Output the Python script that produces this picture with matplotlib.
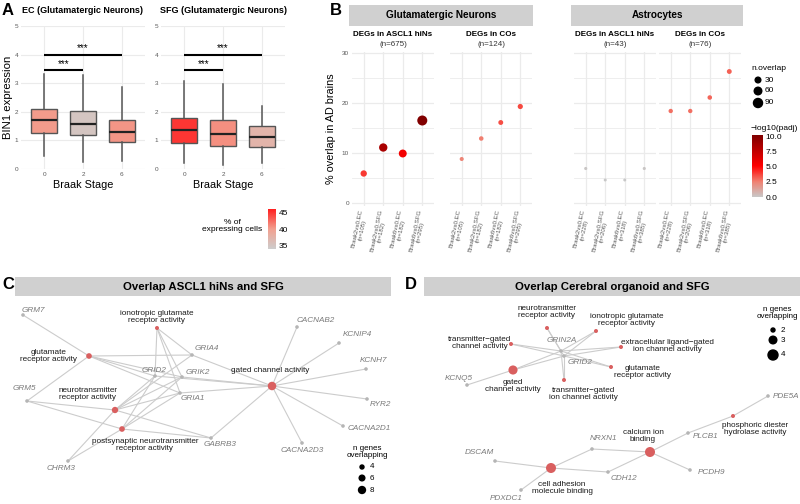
import numpy as np
import matplotlib
matplotlib.use("Agg")
import matplotlib.pyplot as plt
from matplotlib.colors import LinearSegmentedColormap, Normalize
from matplotlib.cm import ScalarMappable

plt.rcParams['font.family'] = ['Liberation Sans', 'DejaVu Sans']

# ---------------- data: panel A (BIN1 boxplots) ----------------
braak_stages = ['0', '2', '6']
ec_q1 = [1.27, 1.18, 0.95]
ec_med = [1.70, 1.57, 1.28]
ec_q3 = [2.10, 2.02, 1.73]
ec_lo = [0.45, 0.25, 0.28]
ec_hi = [3.33, 3.30, 2.87]
ec_pct = [40.2, 35.0, 40.5]
sfg_q1 = [0.92, 0.82, 0.78]
sfg_med = [1.35, 1.22, 1.13]
sfg_q3 = [1.80, 1.70, 1.52]
sfg_lo = [0.22, 0.15, 0.20]
sfg_hi = [3.07, 2.97, 2.20]
sfg_pct = [45.0, 40.8, 37.3]
sig_pairs = [(0, 2), (0, 1)]
sig_heights = [4.0, 3.45]

# ---------------- data: panel B (overlap dots) ----------------
comparisons = ['Braak2vs0.EC', 'Braak2vs0.SFG', 'Braak6vs0.EC', 'Braak6vs0.SFG']
glut_brain_n = [105, 182, 182, 295]
astro_brain_n = [228, 206, 318, 385]
glut_hin_pct = [5.9, 11.1, 9.9, 16.5]
glut_hin_padj = [4.0, 8.6, 5.6, 10.2]
glut_hin_overlap = [40, 75, 67, 112]
glut_co_pct = [8.8, 12.9, 16.1, 19.3]
glut_co_padj = [2.4, 2.6, 3.6, 3.7]
glut_co_overlap = [11, 16, 20, 24]
astro_hin_pct = [6.9, 4.6, 4.6, 6.9]
astro_hin_padj = [0.1, 0.0, 0.0, 0.1]
astro_hin_overlap = [3, 2, 2, 3]
astro_co_pct = [18.4, 18.4, 21.1, 26.3]
astro_co_padj = [2.9, 2.9, 3.1, 3.2]
astro_co_overlap = [14, 14, 16, 20]
facet_titles = ['DEGs in ASCL1 hiNs', 'DEGs in COs', 'DEGs in ASCL1 hiNs', 'DEGs in COs']
facet_n = [675, 124, 43, 76]

# ---------------- data: panel C network ----------------
c_terms = ['glutamate\nreceptor activity', 'ionotropic glutamate\nreceptor activity',
           'neurotransmitter\nreceptor activity',
           'postsynaptic neurotransmitter\nreceptor activity', 'gated channel activity']
c_term_x = [89, 157, 115, 122, 272]
c_term_y = [356, 328, 410, 429, 386]
c_term_ngenes = [6, 4, 7, 6, 11]
c_genes = ['GRM7', 'CACNAB2', 'KCNIP4', 'GRIA4', 'KCNH7', 'GRID2', 'GRIK2', 'GRM5',
           'GRIA1', 'RYR2', 'CACNA2D1', 'GABRB3', 'CACNA2D3', 'CHRM3']
c_gene_x = [23, 297, 339, 192, 366, 155, 182, 27, 180, 367, 343, 211, 302, 68]
c_gene_y = [315, 327, 343, 355, 369, 376, 377, 401, 393, 399, 426, 438, 443, 461]
c_edges = {
    0: ['GRM7', 'GRM5', 'GRIA4', 'GRID2', 'GRIK2', 'GRIA1'],
    1: ['GRIA4', 'GRID2', 'GRIK2', 'GRIA1'],
    2: ['GRM5', 'GRIA4', 'GRID2', 'GRIK2', 'GRIA1', 'GABRB3', 'CHRM3'],
    3: ['GRM5', 'GRID2', 'GRIK2', 'GRIA1', 'GABRB3', 'CHRM3'],
    4: ['CACNAB2', 'KCNIP4', 'KCNH7', 'RYR2', 'CACNA2D1', 'CACNA2D3', 'GABRB3',
        'GRIA4', 'GRID2', 'GRIK2', 'GRIA1'],
}
c_term_lab = [(-40, 0), (0, -11), (-27, -16), (23, 16), (-2, -15)]
c_gene_lab = [(10, -5), (19, -6), (18, -8), (15, -6), (8, -8), (-1, -6), (16, -4),
              (-3, -12), (13, 5), (13, 5), (26, 3), (9, 7), (0, 8), (-7, 7)]

# ---------------- data: panel D network ----------------
d_terms = ['neurotransmitter\nreceptor activity', 'ionotropic glutamate\nreceptor activity',
           'transmitter\u2212gated\nchannel activity',
           'extracellular ligand\u2212gated\nion channel activity',
           'glutamate\nreceptor activity', 'gated\nchannel activity',
           'transmitter\u2212gated\nion channel activity',
           'phosphoric diester\nhydrolase activity', 'calcium ion\nbinding',
           'cell adhesion\nmolecule binding']
d_term_x = [547, 596, 511, 621, 611, 513, 564, 733, 650, 551]
d_term_y = [328, 331, 344, 347, 367, 370, 380, 416, 452, 468]
d_term_ngenes = [2, 2, 2, 2, 2, 3.6, 2, 2, 4, 4]
d_genes = ['GRIN2A', 'GRID2', 'KCNQ5', 'PDE5A', 'PLCB1', 'NRXN1', 'DSCAM', 'CDH12',
           'PCDH9', 'PDXDC1']
d_gene_x = [561, 564, 467, 768, 688, 592, 495, 608, 690, 521]
d_gene_y = [351, 356, 385, 396, 433, 449, 461, 472, 470, 490]
d_edges = {
    0: ['GRIN2A', 'GRID2'], 1: ['GRIN2A', 'GRID2'], 2: ['GRIN2A', 'GRID2'],
    3: ['GRIN2A', 'GRID2'], 4: ['GRIN2A', 'GRID2'], 5: ['GRIN2A', 'GRID2', 'KCNQ5'],
    6: ['GRIN2A', 'GRID2'], 7: ['PDE5A', 'PLCB1'],
    8: ['NRXN1', 'CDH12', 'PCDH9', 'PLCB1'], 9: ['DSCAM', 'NRXN1', 'CDH12', 'PDXDC1'],
}
d_term_lab = [(0, -16), (31, -11), (-31, -1), (46, -1), (32, 5), (0, 16), (19, 14),
              (22, 13), (-7, -16), (11, 20)]
d_gene_lab = [(1, -11), (16, 7), (-8, -7), (18, 0), (18, 3), (12, -10), (-16, -8),
              (16, 7), (21, 2), (-15, 8)]

W, H = 800, 504
fig = plt.figure(figsize=(8, 5.04), dpi=100)


def rect(l, t, w, h):
    return [l / W, 1 - (t + h) / H, w / W, h / H]


GRID = '#ebebeb'
TICK = '#5a5a5a'


def minimal(ax):
    for s in ax.spines.values():
        s.set_visible(False)
    ax.tick_params(length=0, labelsize=4.6, labelcolor=TICK, pad=2)
    ax.set_axisbelow(True)


def strip(l, t, w, h, text, size):
    sax = fig.add_axes(rect(l, t, w, h))
    sax.set_facecolor('#d0d0d0')
    sax.set_xticks([])
    sax.set_yticks([])
    for s in sax.spines.values():
        s.set_visible(False)
    sax.text(0.5, 0.5, text, ha='center', va='center', fontsize=size,
             fontweight='bold', transform=sax.transAxes)


# ---------------- panel A ----------------
pct_cmap = LinearSegmentedColormap.from_list('pct', ['#cdcdcd', '#f2a08f', '#ff1e1e'])
pct_norm = Normalize(33.8, 46.2)

a_sets = [('EC (Glutamatergic Neurons)', ec_q1, ec_med, ec_q3, ec_lo, ec_hi, ec_pct, 21),
          ('SFG (Glutamatergic Neurons)', sfg_q1, sfg_med, sfg_q3, sfg_lo, sfg_hi, sfg_pct, 161)]
for title, q1, med, q3, lo, hi, pct, left in a_sets:
    ax = fig.add_axes(rect(left, 26, 124, 143))
    minimal(ax)
    stats = [dict(q1=q1[i], med=med[i], q3=q3[i], whislo=lo[i], whishi=hi[i], fliers=[])
             for i in range(3)]
    bp = ax.bxp(stats, positions=range(3), widths=0.66, patch_artist=True, showcaps=False,
                boxprops=dict(edgecolor='#555555', linewidth=1.0),
                medianprops=dict(color='#222222', linewidth=1.6),
                whiskerprops=dict(color='#555555', linewidth=1.1))
    for patch, p in zip(bp['boxes'], pct):
        patch.set_facecolor(pct_cmap(pct_norm(p)))
    for (a, b), yv in zip(sig_pairs, sig_heights):
        ax.plot([a, b], [yv, yv], color='black', lw=1.5, solid_capstyle='butt')
        ax.text((a + b) / 2, yv + 0.04, '***', ha='center', va='bottom', fontsize=7)
    ax.set_xlim(-0.6, 2.6)
    ax.set_ylim(0, 5)
    ax.set_xticks(range(3))
    ax.set_xticklabels(braak_stages)
    ax.set_yticks(range(6))
    ax.grid(color=GRID, lw=0.8)
    ax.set_xlabel('Braak Stage', fontsize=7.8, labelpad=2)
    ax.set_title(title, fontsize=6.5, fontweight='bold', pad=9)
    if left < 100:
        ax.set_ylabel('BIN1 expression', fontsize=8.2, labelpad=1)

cax = fig.add_axes(rect(268, 209, 8, 40))
cb = fig.colorbar(ScalarMappable(norm=pct_norm, cmap=pct_cmap), cax=cax)
cb.outline.set_visible(False)
cb.set_ticks([35, 40, 45])
cax.tick_params(length=0, labelsize=6, pad=2)
fig.text(232 / W, 1 - 226 / H, '% of\nexpressing cells', ha='center', va='center',
         fontsize=6, linespacing=1.0)

# ---------------- panel B ----------------
padj_cmap = LinearSegmentedColormap.from_list(
    'padj', [(0, '#c8c8c8'), (0.25, '#f08070'), (0.5, '#ff0000'), (1, '#7f0000')])
padj_norm = Normalize(0, 10.3)


def dot_size(n):
    d = np.sqrt(7.3 + 0.83 * np.asarray(n, dtype=float))
    return (0.72 * d) ** 2


b_panels = [(352, glut_hin_pct, glut_hin_padj, glut_hin_overlap, glut_brain_n),
            (450, glut_co_pct, glut_co_padj, glut_co_overlap, glut_brain_n),
            (574, astro_hin_pct, astro_hin_padj, astro_hin_overlap, astro_brain_n),
            (659, astro_co_pct, astro_co_padj, astro_co_overlap, astro_brain_n)]
for k, (left, pct, padj, ov, bn) in enumerate(b_panels):
    ax = fig.add_axes(rect(left, 51.5, 82, 154.5))
    minimal(ax)
    ax.scatter(range(4), pct, s=dot_size(ov), c=padj, cmap=padj_cmap, norm=padj_norm,
               edgecolors='none', zorder=3)
    ax.set_xlim(-0.6, 3.6)
    ax.set_ylim(-0.6, 30.3)
    ax.set_yticks([0, 10, 20, 30])
    ax.set_yticks([5, 15, 25], minor=True)
    ax.grid(which='major', color=GRID, lw=0.9)
    ax.grid(which='minor', color=GRID, lw=0.6)
    ax.tick_params(which='minor', length=0)
    ax.set_xticks(range(4))
    ax.set_xticklabels([f'{c}\n(n={n})' for c, n in zip(comparisons, bn)], rotation=78,
                       ha='right', va='center', rotation_mode='anchor', fontsize=4.4,
                       multialignment='center', linespacing=1.0)
    ax.tick_params(axis='x', pad=3)
    if k == 0:
        ax.set_ylabel('% overlap in AD brains', fontsize=7.8, labelpad=4)
    else:
        ax.set_yticklabels([])
    cx = (left + 41) / W
    fig.text(cx, 1 - 35 / H, facet_titles[k], ha='center', va='center', fontsize=5.8,
             fontweight='bold')
    fig.text(cx, 1 - 45 / H, f'(n={facet_n[k]})', ha='center', va='center', fontsize=5.8,
             color='#333333')

strip(349, 5, 184, 21, 'Glutamatergic Neurons', 7.2)
strip(571, 5, 172, 21, 'Astrocytes', 7.2)

# n.overlap legend
lax = fig.add_axes(rect(748, 60, 50, 50))
lax.axis('off')
lax.set_xlim(748, 798)
lax.set_ylim(110, 60)
leg_vals = [30, 60, 90]
lax.scatter([758] * 3, [80, 91, 103], s=dot_size(leg_vals), color='black')
for yv, v in zip([80, 91, 103], leg_vals):
    lax.text(765, yv, str(v), va='center', fontsize=6)
lax.text(751, 68, 'n.overlap', va='center', fontsize=6)

fig.text(751 / W, 1 - 129 / H, '\u2212log10(padj)', va='center', fontsize=6)
cax2 = fig.add_axes(rect(752, 135, 11, 62))
cb2 = fig.colorbar(ScalarMappable(norm=padj_norm, cmap=padj_cmap), cax=cax2)
cb2.outline.set_visible(False)
cb2.set_ticks([0, 2.5, 5, 7.5, 10])
cb2.set_ticklabels(['0.0', '2.5', '5.0', '7.5', '10.0'])
cax2.tick_params(length=0, labelsize=6, pad=2)


# ---------------- panels C and D ----------------
def network(left, right, terms, tx, ty, tn, genes, gx, gy, edges, tlab, glab, smin, smax,
            nmin, nmax):
    ax = fig.add_axes(rect(left, 298, right - left, 206))
    ax.set_xlim(left, right)
    ax.set_ylim(504, 298)
    ax.axis('off')
    gpos = {g: (x, y) for g, x, y in zip(genes, gx, gy)}
    for ti, glist in edges.items():
        for g in glist:
            ax.plot([tx[ti], gpos[g][0]], [ty[ti], gpos[g][1]], color='#cccccc', lw=0.8,
                    zorder=1)
    ax.scatter(gx, gy, s=(0.72 * 3.6) ** 2, color='#b5b5b5', zorder=2, edgecolors='none')

    def tsize(n):
        t = (np.asarray(n, dtype=float) - nmin) / (nmax - nmin)
        d = np.sqrt(smin ** 2 + t * (smax ** 2 - smin ** 2))
        return (0.72 * d) ** 2

    ax.scatter(tx, ty, s=tsize(tn), color='#d95f5f', zorder=3, edgecolors='none')
    for t, x, y, (dx, dy) in zip(terms, tx, ty, tlab):
        ax.text(x + dx, y + dy, t, ha='center', va='center', fontsize=5.9, linespacing=1.05,
                zorder=4, color='#1a1a1a')
    for g, x, y, (dx, dy) in zip(genes, gx, gy, glab):
        ax.text(x + dx, y + dy, g, ha='center', va='center', fontsize=5.9, style='italic',
                color='#7a7a7a', zorder=4)
    return ax, tsize


axc, c_size = network(15, 391, c_terms, c_term_x, c_term_y, c_term_ngenes, c_genes,
                      c_gene_x, c_gene_y, c_edges, c_term_lab, c_gene_lab, 4, 8.5, 4, 11)
c_leg = [4, 6, 8]
axc.text(367, 452, 'n genes\noverlapping', ha='center', va='center', fontsize=5.8,
         linespacing=1.1)
axc.scatter([362] * 3, [467, 478, 490], s=c_size(c_leg), color='black', zorder=3)
for yv, v in zip([467, 478, 490], c_leg):
    axc.text(370, yv, str(v), va='center', fontsize=5.8)

axd, d_size = network(424, 800, d_terms, d_term_x, d_term_y, d_term_ngenes, d_genes,
                      d_gene_x, d_gene_y, d_edges, d_term_lab, d_gene_lab, 4, 10, 2, 4)
d_leg = [2, 3, 4]
axd.text(777, 313, 'n genes\noverlapping', ha='center', va='center', fontsize=5.8,
         linespacing=1.1)
axd.scatter([773] * 3, [330, 340, 355], s=d_size(d_leg), color='black', zorder=3)
for yv, v in zip([330, 340, 355], d_leg):
    axd.text(781, yv, str(v), va='center', fontsize=5.8)

strip(15, 277, 376, 19, 'Overlap ASCL1 hiNs and SFG', 8.2)
strip(424, 277, 376, 19, 'Overlap Cerebral organoid and SFG', 8.2)

# panel letters
for letter, x, y in [('A', 2, 3), ('B', 330, 3), ('C', 2, 277), ('D', 405, 277)]:
    fig.text(x / W, 1 - y / H, letter, fontsize=12, fontweight='bold', va='top')

fig.savefig('out.png', dpi=100)
